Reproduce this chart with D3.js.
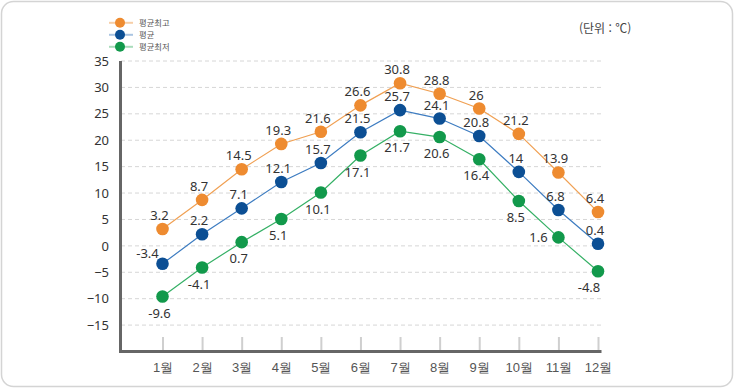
<!DOCTYPE html>
<html lang="ko">
<head>
<meta charset="utf-8">
<title>월별 기온</title>
<style>
   html,body { margin:0; padding:0; background:#fff; }
   svg { display:block; font-family:"Noto Sans CJK KR","Noto Sans",sans-serif; }
</style>
<script src="https://d3js.org/d3.v7.min.js"></script>
</head>
<body>
<script>
// data
let months = ['1월','2월','3월','4월','5월','6월','7월','8월','9월','10월','11월','12월'];
let tmax = [3.2, 8.7, 14.5, 19.3, 21.6, 26.6, 30.8, 28.8, 26, 21.2, 13.9, 6.4];
let tavg = [-3.4, 2.2, 7.1, 12.1, 15.7, 21.5, 25.7, 24.1, 20.8, 14, 6.8, 0.4];
let tmin = [-9.6, -4.1, 0.7, 5.1, 10.1, 17.1, 21.7, 20.6, 16.4, 8.5, 1.6, -4.8];
let yticks = [35, 30, 25, 20, 15, 10, 5, 0, -5, -10, -15];
let seriesNames = ['평균최고','평균','평균최저'];

const width = 735, height = 390;
const series = [
   {name:seriesNames[0], values:tmax, dot:'#ee8b30', line:'#f0a053', leg:'#f7cfa8', pos:'above'},
   {name:seriesNames[1], values:tavg, dot:'#0c4f94', line:'#3d7cc1', leg:'#aac5e2', pos:'above'},
   {name:seriesNames[2], values:tmin, dot:'#12994b', line:'#35b065', leg:'#a9dcbb', pos:'below'},
];

const svg = d3.select('body').append('svg')
   .attr('width', width).attr('height', height);

// rounded frame
svg.append('rect')
   .attr('x', 1.5).attr('y', 1.5).attr('width', 731).attr('height', 385)
   .attr('rx', 12).attr('fill', '#fff').attr('stroke', '#d4d4d4').attr('stroke-width', 1.5);

let x = d3.scalePoint().domain(months).range([162.5, 598]);
let y = d3.scaleLinear().domain([-20, 35]).range([351.5, 61]);

// dashed grid
svg.append('g').selectAll('line').data(yticks).join('line')
   .attr('x1', 121).attr('x2', 601)
   .attr('y1', d => y(d)).attr('y2', d => y(d))
   .attr('stroke', '#d6d6d6').attr('stroke-dasharray', '4,3');

// y axis labels
let yAxis = d3.axisLeft(y).tickValues(yticks).tickSize(0).tickPadding(11);
let gy = svg.append('g').attr('transform', 'translate(120,0)').call(yAxis);
gy.select('.domain').remove();
gy.selectAll('text').attr('font-size', 13).attr('fill', '#333')
   .attr('font-family', '"Noto Sans","Noto Sans CJK KR",sans-serif');

// x axis ticks and labels
let xAxis = d3.axisBottom(x).tickSize(14).tickPadding(6);
let gx = svg.append('g').attr('transform', 'translate(0,351)').call(xAxis);
gx.select('.domain').remove();
gx.selectAll('.tick line').attr('y1', -14).attr('y2', 0).attr('stroke', '#cfcfcf').attr('stroke-width', 2);
gx.selectAll('text').attr('y', 12).attr('font-size', 13).attr('fill', '#555');

// thick axis frame
svg.append('path')
   .attr('d', `M120.5,${y(35)}V351.5H601.5`)
   .attr('fill', 'none').attr('stroke', '#666').attr('stroke-width', 3);

// series lines and dots
let line = d3.line().x((d, i) => x(months[i])).y(d => y(d));
for (let s of series) {
   svg.append('path').datum(s.values)
      .attr('d', line).attr('fill', 'none').attr('stroke', s.line).attr('stroke-width', 1.2);
   svg.append('g').selectAll('circle').data(s.values).join('circle')
      .attr('cx', (d, i) => x(months[i])).attr('cy', d => y(d)).attr('r', 6.3)
      .attr('fill', s.dot);
}

// value labels
function labelOffset(s, i) {
   if (s.name === '평균' && i === 0) return [-15, -6];
   if (s.name === '평균최저' && i === 10) return [-20, 5];
   if (s.name === '평균최저' && i === 11) return [-9, 21];
   if (s.pos === 'below') return [-3, 21];
   return [-3, -9];
}
for (let s of series) {
   svg.append('g').selectAll('text').data(s.values).join('text')
      .attr('x', (d, i) => x(months[i]) + labelOffset(s, i)[0])
      .attr('y', (d, i) => y(d) + labelOffset(s, i)[1])
      .attr('text-anchor', 'middle').attr('font-size', 13).attr('fill', '#333')
      .attr('font-family', '"Noto Sans","Noto Sans CJK KR",sans-serif')
      .text(d => d);
}

// legend
let leg = svg.append('g').selectAll('g').data(series).join('g')
   .attr('transform', (d, i) => `translate(120,${22.8 + i * 12})`);
leg.append('line').attr('x1', -11).attr('x2', 13).attr('stroke', d => d.leg).attr('stroke-width', 2);
leg.append('circle').attr('r', 5).attr('fill', d => d.dot);
leg.append('text').attr('x', 19).attr('y', 3.2).attr('font-size', 8.3).attr('fill', '#555').text(d => d.name);

// unit
svg.append('text').attr('x', 579).attr('y', 33).attr('font-size', 12).attr('fill', '#444').text('(단위 : ℃)');
</script>
</body>
</html>
